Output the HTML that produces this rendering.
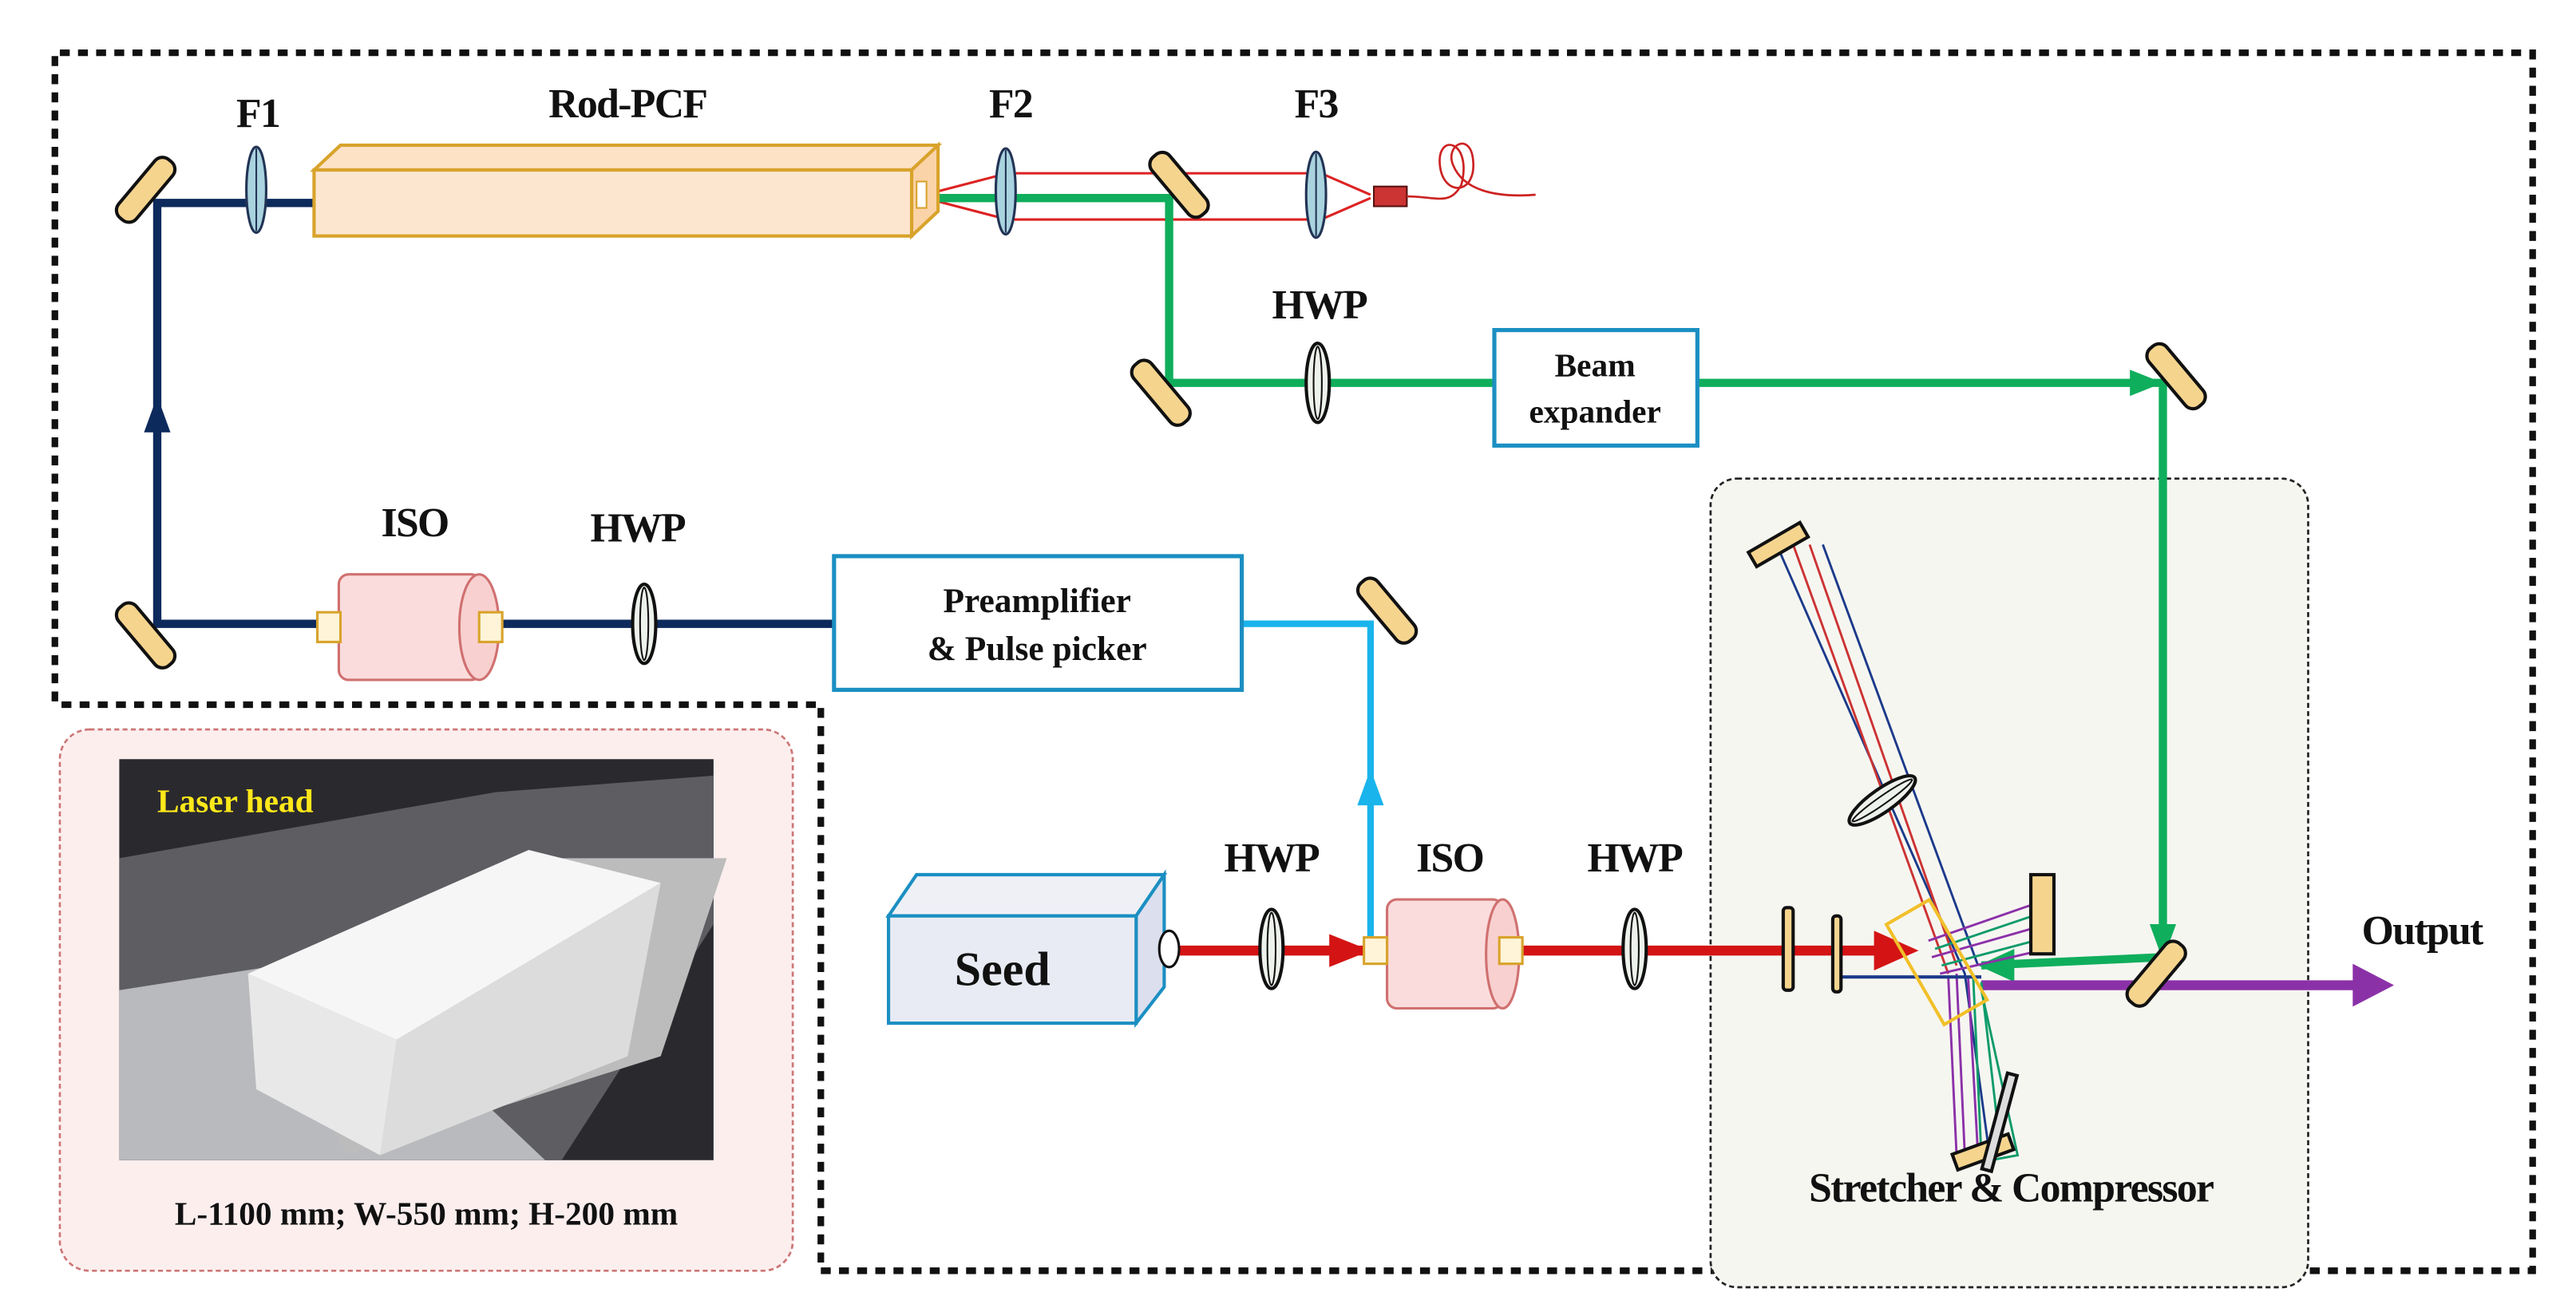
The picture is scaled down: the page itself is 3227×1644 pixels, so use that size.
<!DOCTYPE html>
<html><head><meta charset="utf-8"><style>
html,body{margin:0;padding:0;background:#fff}
svg{display:block}
text{font-family:"Liberation Serif",serif;font-weight:bold;fill:#111}
.l{font-size:25px;letter-spacing:-0.8px}
</style></head><body>
<svg width="3227" height="1644" viewBox="0 0 1560 795" xmlns="http://www.w3.org/2000/svg">
<defs>
<g id="mir"><rect x="-7" y="-23" width="14" height="46" rx="6" fill="#f5d48e" stroke="#111" stroke-width="2"/></g>
<g id="hwp"><ellipse cx="0" cy="0" rx="7" ry="24" fill="#eef2ec" stroke="#111" stroke-width="2"/><ellipse cx="0" cy="0" rx="2.5" ry="22" fill="none" stroke="#111" stroke-width="1"/></g>
<g id="fl"><ellipse cx="0" cy="0" rx="6" ry="26" fill="#a9d3de" stroke="#235" stroke-width="1.5"/><line x1="0" y1="-25" x2="0" y2="25" stroke="#235" stroke-width="1"/></g>
</defs>

<path d="M33,425 L33,32 L1534,32 L1534,770 L497,770 L497,427 L33,427" fill="none" stroke="#111" stroke-width="4" stroke-dasharray="6,5"/>

<rect x="36" y="442" width="444" height="328" rx="18" fill="#fdeeee" stroke="#c77" stroke-width="1.3" stroke-dasharray="3,2"/>
<rect x="72" y="460" width="360" height="243" fill="#2a2a2e"/>
<path d="M72,520 L300,480 L432,470 L432,560 L340,703 L72,703z" fill="#5d5d62"/>
<path d="M72,703 L72,600 L200,580 L330,703z" fill="#b9babd"/>
<path d="M150,590 L330,520 L440,520 L400,640 L210,700z" fill="#bcbcbc"/>
<path d="M150,590 L320,515 L400,535 L240,630z" fill="#f6f6f6"/>
<path d="M240,630 L400,535 L380,640 L230,700z" fill="#dcdcdc"/>
<path d="M150,590 L240,630 L230,700 L155,660z" fill="#e8e8e8"/>
<text x="95" y="492" font-size="20" style="fill:#ffe81a">Laser head</text>
<text x="258" y="742" font-size="20" text-anchor="middle">L-1100 mm; W-550 mm; H-200 mm</text>

<rect x="1036" y="290" width="362" height="490" rx="16" fill="#f6f6f1" stroke="#222" stroke-width="1.3" stroke-dasharray="3,2"/>
<text x="1218" y="728" class="l" text-anchor="middle">Stretcher &amp; Compressor</text>

<text x="156" y="77" class="l" text-anchor="middle">F1</text>
<text x="380" y="71" class="l" text-anchor="middle">Rod-PCF</text>
<text x="612" y="71" class="l" text-anchor="middle">F2</text>
<text x="797" y="71" class="l" text-anchor="middle">F3</text>
<text x="799" y="193" class="l" text-anchor="middle">HWP</text>
<text x="251" y="325" class="l" text-anchor="middle">ISO</text>
<text x="386" y="328" class="l" text-anchor="middle">HWP</text>
<text x="770" y="528" class="l" text-anchor="middle">HWP</text>
<text x="878" y="528" class="l" text-anchor="middle">ISO</text>
<text x="990" y="528" class="l" text-anchor="middle">HWP</text>
<text x="1467" y="572" class="l" text-anchor="middle">Output</text>

<path d="M190,123 L95,123 L95,378 L505,378" fill="none" stroke="#0d2a5c" stroke-width="5"/>
<path d="M87,262 L95,240 L103,262z" fill="#0d2a5c"/>

<path d="M560,118 L610,105 L800,105 L830,118 M560,120 L610,133 L800,133 L830,120" fill="none" stroke="#d22" stroke-width="1.5"/>
<rect x="832" y="113" width="20" height="12" fill="#c33" stroke="#511"/>
<path d="M852,119 C870,119 878,125 885,112 C892,85 870,80 872,100 C874,120 895,118 892,96 C890,80 875,88 880,100 C886,115 905,120 930,118" fill="none" stroke="#c22" stroke-width="1.3"/>

<path d="M560,120 L708,120 L708,232 L905,232 M1028,232 L1310,232 L1310,580 L1200,585" fill="none" stroke="#0fae5c" stroke-width="5"/>
<path d="M1290,224 L1310,232 L1290,240z" fill="#0fae5c"/>
<path d="M1302,560 L1310,582 L1318,560z" fill="#0fae5c"/>
<path d="M1220,575 L1198,585 L1220,595z" fill="#0fae5c"/>

<path d="M190,103 L206,88 L568,88 L552,103z" fill="#fde2c6" stroke="#d8a32b" stroke-width="2"/>
<path d="M552,103 L568,88 L568,128 L552,143z" fill="#fbd3a8" stroke="#d8a32b" stroke-width="2"/>
<rect x="190" y="103" width="362" height="40" fill="#fde6d0" stroke="#d8a32b" stroke-width="2"/>
<rect x="555" y="110" width="6" height="16" fill="#fff" stroke="#d8a32b"/>

<use href="#fl" x="155" y="115"/>
<use href="#fl" x="609" y="116"/>
<use href="#fl" x="797" y="118"/>

<path d="M752,378 L830,378 L830,572" fill="none" stroke="#19b4ec" stroke-width="4"/>
<path d="M822,488 L830,466 L838,488z" fill="#19b4ec"/>

<path d="M710,576 L1140,576" fill="none" stroke="#d41414" stroke-width="6"/>
<path d="M805,566 L830,576 L805,586z" fill="#d41414"/>
<path d="M1135,564 L1162,576 L1135,588z" fill="#d41414"/>

<path d="M1200,597 L1428,597" stroke="#8b31a8" stroke-width="6"/>
<path d="M1425,584 L1450,597 L1425,610z" fill="#8b31a8"/>

<g fill="none" stroke-width="1.4">
<path d="M1076,330 L1190,590 L1205,700" stroke="#1b3a8a"/>
<path d="M1086,330 L1180,590" stroke="#c33"/>
<path d="M1096,330 L1185,585" stroke="#c33"/>
<path d="M1104,330 L1198,585" stroke="#1b3a8a"/>
<path d="M1185,590 L1190,700 M1192,592 L1198,700 M1180,592 L1185,700" stroke="#8b31a8"/>
<path d="M1195,590 L1200,700 M1200,595 L1212,700" stroke="#0e9b6b"/>
<path d="M1200,600 L1222,700 L1195,705" stroke="#0e9b6b"/>
<path d="M1168,570 L1240,545 M1170,580 L1240,560 M1175,590 L1240,575" stroke="#8b31a8"/>
<path d="M1172,575 L1240,552 M1176,585 L1240,568" stroke="#0e9b6b"/>
<path d="M1112,592 L1200,592" stroke="#1b3a8a" stroke-width="2"/>
</g>
<rect x="1158" y="548" width="30" height="70" fill="none" stroke="#f1c02a" stroke-width="2" transform="rotate(-30 1173 583)"/>
<rect x="1230" y="530" width="14" height="48" fill="#f5d48e" stroke="#111" stroke-width="2"/>
<rect x="1072" y="312" width="10" height="36" fill="#f5d48e" stroke="#111" stroke-width="2" transform="rotate(60 1077 330)"/>
<rect x="1196" y="680" width="10" height="36" fill="#f5d48e" stroke="#111" stroke-width="2" transform="rotate(70 1201 698)"/>
<rect x="1208" y="650" width="6" height="60" fill="#ddd" stroke="#111" stroke-width="2" transform="rotate(15 1211 680)"/>
<use href="#hwp" x="1140" y="485" transform="rotate(55 1140 485)"/>
<rect x="1080" y="550" width="6" height="50" rx="2" fill="#f5d48e" stroke="#111" stroke-width="2"/>
<rect x="1110" y="555" width="5" height="46" rx="2" fill="#f5d48e" stroke="#111" stroke-width="2"/>

<use href="#mir" transform="translate(88,115) rotate(40)"/>
<use href="#mir" transform="translate(88,385) rotate(-40)"/>
<use href="#mir" transform="translate(714,112) rotate(-40)"/>
<use href="#mir" transform="translate(703,238) rotate(-40)"/>
<use href="#mir" transform="translate(1318,228) rotate(-40)"/>
<use href="#mir" transform="translate(840,370) rotate(-40)"/>
<use href="#mir" transform="translate(1306,590) rotate(40)"/>

<use href="#hwp" x="798" y="232"/>
<use href="#hwp" x="390" y="378"/>
<use href="#hwp" x="770" y="575"/>
<use href="#hwp" x="990" y="575"/>

<rect x="905" y="200" width="123" height="70" fill="#fff" stroke="#1b8fc2" stroke-width="2.5"/>
<text x="966" y="228" font-size="20" text-anchor="middle">Beam</text>
<text x="966" y="256" font-size="20" text-anchor="middle">expander</text>
<rect x="505" y="337" width="247" height="81" fill="#fff" stroke="#1b8fc2" stroke-width="2.5"/>
<text x="628" y="371" font-size="21" text-anchor="middle">Preamplifier</text>
<text x="628" y="400" font-size="21" text-anchor="middle">&amp; Pulse picker</text>

<rect x="205" y="348" width="86" height="64" rx="6" fill="#fbdcdc" stroke="#d07070" stroke-width="1.5"/>
<ellipse cx="290" cy="380" rx="12" ry="32" fill="#f8d0d0" stroke="#d07070" stroke-width="1.5"/>
<rect x="192" y="371" width="14" height="18" fill="#fff4d8" stroke="#d8a32b" stroke-width="1.5"/>
<rect x="290" y="371" width="14" height="18" fill="#fff4d8" stroke="#d8a32b" stroke-width="1.5"/>
<rect x="840" y="545" width="70" height="66" rx="6" fill="#fbdcdc" stroke="#d07070" stroke-width="1.5"/>
<ellipse cx="910" cy="578" rx="10" ry="33" fill="#f8d0d0" stroke="#d07070" stroke-width="1.5"/>
<rect x="826" y="568" width="14" height="16" fill="#fff4d8" stroke="#d8a32b" stroke-width="1.5"/>
<rect x="908" y="568" width="14" height="16" fill="#fff4d8" stroke="#d8a32b" stroke-width="1.5"/>

<path d="M538,555 L555,530 L705,530 L688,555z" fill="#eef0f6" stroke="#1b8fc2" stroke-width="2"/>
<path d="M688,555 L705,530 L705,598 L688,620z" fill="#dcdfee" stroke="#1b8fc2" stroke-width="2"/>
<rect x="538" y="555" width="150" height="65" fill="#e8ebf4" stroke="#1b8fc2" stroke-width="2"/>
<text x="607" y="597" font-size="29" text-anchor="middle">Seed</text>
<ellipse cx="708" cy="575" rx="6" ry="11" fill="#fff" stroke="#111" stroke-width="1.5"/>
</svg>
</body></html>
